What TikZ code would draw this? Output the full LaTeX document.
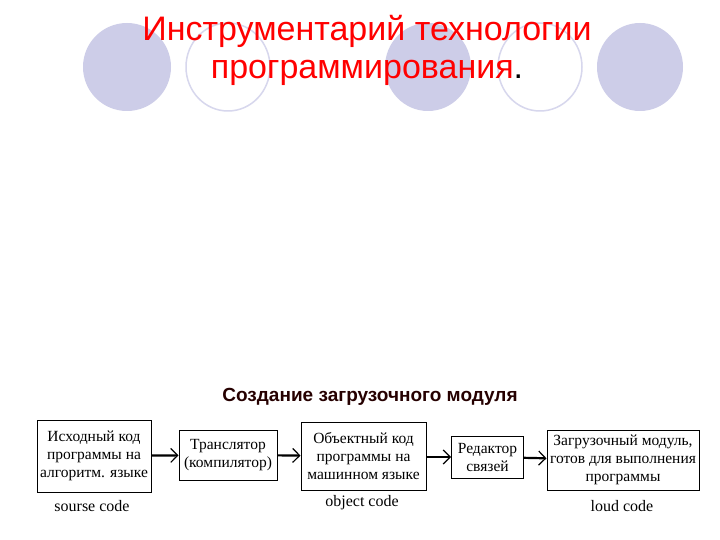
\documentclass[tikz,border=0pt]{standalone}
\usepackage{fontspec}
\usetikzlibrary{arrows.meta}
\setmainfont{Liberation Serif}
\newfontfamily\sansf{Liberation Sans}
\definecolor{lav}{RGB}{205,205,232}
\begin{document}
\begin{tikzpicture}[x=1pt,y=-1pt,
  bx/.style={draw,line width=1pt,align=center,font=\fontsize{15.5}{18}\selectfont,inner sep=0pt},
  lab/.style={font=\fontsize{16}{18}\selectfont},
  ar/.style={-{Straight Barb[length=7pt,width=14pt,line width=1.2pt]},line width=2.2pt}]
\useasboundingbox (0,0) rectangle (720,540);
\fill[white] (0,0) rectangle (720,540);
\fill[lav] (127,67) ellipse (44 and 44);
\draw[lav!80!white,line width=1.5pt] (228,67) ellipse (42 and 44);
\fill[lav] (428,67) ellipse (43 and 44);
\draw[lav!80!white,line width=1.5pt] (540,67) ellipse (42 and 44);
\fill[lav] (640,67) ellipse (43 and 44);
\node[font=\sansf\fontsize{34}{38}\selectfont,text=red,align=center] (t) at (367,50)
  {Инструментарий технологии\\программирования\textcolor{black}{.}};
\node[font=\sansf\bfseries\fontsize{19}{22}\selectfont,text=black!85!red] (s) at (370,397) {Создание загрузочного модуля};
\node[bx,minimum width=114,minimum height=72] (b1) at (94,456) {Исходный код\\программы на\\алгоритм. языке};
\node[bx,minimum width=98,minimum height=50] (b2) at (228,455) {Транслятор\\(компилятор)};
\node[bx,minimum width=125,minimum height=68] (b3) at (363.5,456) {Объектный код\\программы на\\машинном языке};
\node[bx,minimum width=72,minimum height=42] (b4) at (487.5,457) {Редактор\\связей};
\node[bx,minimum width=152,minimum height=60] (b5) at (623,460) {Загрузочный модуль,\\готов для выполнения\\программы};
\node[lab] (l1) at (92,506) {sourse code};
\node[lab] (l3) at (362,503) {object code};
\node[lab] (l5) at (622,506) {loud code};
\draw[ar] (b1) -- (b2);
\draw[ar] (b2) -- (b3);
\draw[ar] (b3.east |- b4) -- (b4);
\draw[ar] (b4) -- (b5);
\end{tikzpicture}
\end{document}
